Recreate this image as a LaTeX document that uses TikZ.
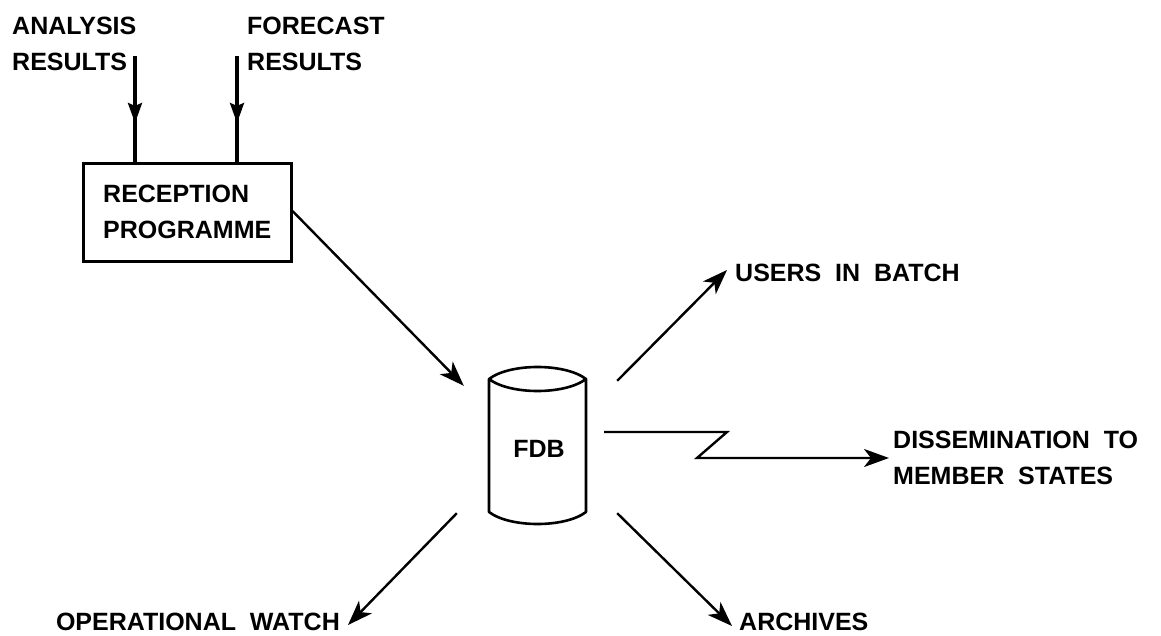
\documentclass[tikz,border=0pt]{standalone}
\usepackage{fontspec}
\setmainfont[WordSpace=2]{Liberation Sans}
\usetikzlibrary{arrows.meta,decorations.markings}
\tikzset{
  x=1pt,y=-1pt,
  lab/.style={inner sep=0pt,align=left,font=\fontsize{25}{36}\selectfont\bfseries},
  thickline/.style={line width=3.4pt},
  thinline/.style={line width=2.4pt},
  bighead/.tip={Stealth[length=25pt,width=18pt,inset=7pt]},
  arr/.style={thinline,-bighead},
  midarr/.style={thickline,postaction={decorate},decoration={markings,mark=at position 67pt with {\arrow{Stealth[length=20pt,width=14pt,inset=3pt]}}}},
}
\begin{document}
\begin{tikzpicture}
\useasboundingbox (0,0) rectangle (1161,636);
\fill[white] (0,0) rectangle (1161,636);
\node[lab,anchor=west] (analysis) at (12,44) {ANALYSIS\\RESULTS};
\node[lab,anchor=west] (forecast) at (247,44) {FORECAST\\RESULTS};
\node[draw,line width=3pt,minimum width=208pt,minimum height=98pt,inner sep=0pt] (rec) at (187.5,213) {};
\node[lab,anchor=west] (rectext) at (103,212) {RECEPTION\\PROGRAMME};
\coordinate (a0) at (135,56);
\coordinate (f0) at (237,56);
\draw[midarr] (a0) -- ([xshift=-52.5pt]rec.north);
\draw[midarr] (f0) -- ([xshift=49.5pt]rec.north);
% cylinder: an empty node holds the outline's extent
\node[minimum width=97pt,minimum height=157pt,inner sep=0pt] (cyl) at (537.5,445.5) {};
\node[inner sep=0pt,font=\fontsize{25}{28}\selectfont\bfseries] (fdb) at (539,449) {FDB};
\draw[line width=2.6pt,line join=round]
  (489,379) .. controls (510,363) and (565,363) .. (586,379)
  .. controls (565,395) and (510,395) .. (489,379)
  -- (489,512) .. controls (510,528) and (565,528) .. (586,512) -- (586,379);
\draw[arr] ([shift={(-0.5,-2)}]rec.east) -- ([shift={(-25,19)}]cyl.north west);
\node[lab,anchor=west] (users) at (735,273) {USERS IN BATCH};
\draw[arr] ([shift={(31,14)}]cyl.north east) -- ([shift={(-8,-3)}]users.west);
\coordinate (d1) at (727,432);
\coordinate (d2) at (697,458);
\node[lab,anchor=west] (diss) at (893,458) {DISSEMINATION TO\\MEMBER STATES};
\draw[arr,line join=miter] ([shift={(18,-13.5)}]cyl.east) -- (d1) -- (d2) -- ([xshift=-4pt]diss.west);
\node[lab,anchor=east] (op) at (340,622) {OPERATIONAL WATCH};
\draw[arr] ([shift={(-32,-11)}]cyl.south west) -- ([shift={(8,3)}]op.east);
\node[lab,anchor=west] (arch) at (739,622) {ARCHIVES};
\draw[arr] ([shift={(31,-11)}]cyl.south east) -- ([shift={(-7,4)}]arch.west);
\end{tikzpicture}
\end{document}
